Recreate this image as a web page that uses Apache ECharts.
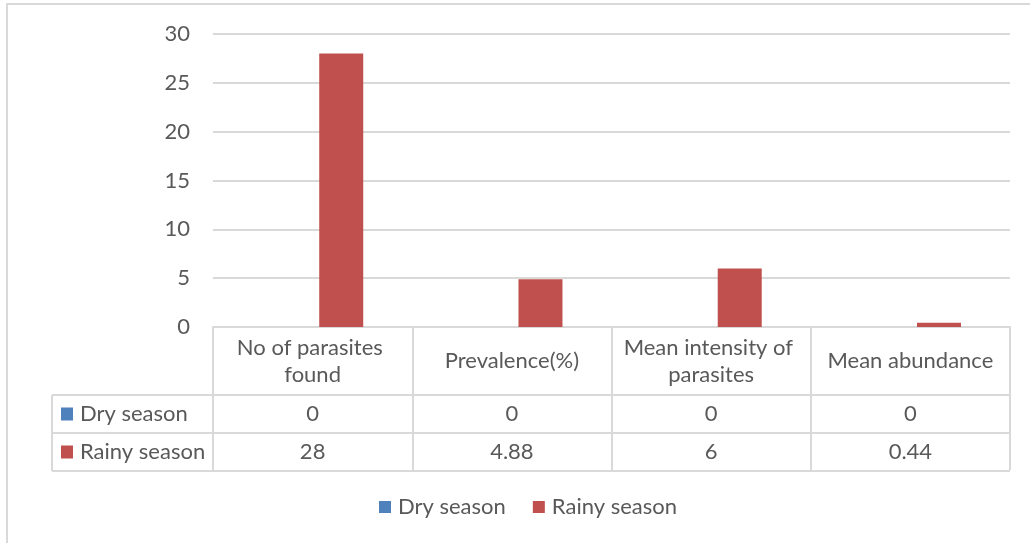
<!DOCTYPE html>
<html>
<head>
<meta charset="utf-8">
<script src="https://cdn.jsdelivr.net/npm/echarts@6/dist/echarts.min.js"></script>
<style>
  html, body { margin: 0; padding: 0; background: #fff; }
  #chart { width: 1030px; height: 543px; }
</style>
</head>
<body>
<div id="chart"></div>
<script>
// Parasite load by season
const categories = ['No of parasites found', 'Prevalence(%)', 'Mean intensity of parasites', 'Mean abundance'];
const seriesNames = ['Dry season', 'Rainy season'];
const drySeason = [0, 0, 0, 0];
const rainySeason = [28, 4.88, 6, 0.44];
const tableText = [['0', '0', '0', '0'], ['28', '4.88', '6', '0.44']];
const yTicks = [0, 5, 10, 15, 20, 25, 30];

const COLORS = ['#4f81bd', '#c0504d'];
const TEXT = '#595959';
const LINE = '#d9d9d9';
const FONT = 'Lato';
const FS = 22;

const chart = echarts.init(document.getElementById('chart'), null, { renderer: 'canvas' });

const option = {
  animation: false,
  backgroundColor: '#fff',
  grid: { left: 213, right: 20, top: 34, bottom: 216, containLabel: false },
  legend: {
    top: 491,
    left: 374,
    itemWidth: 12,
    itemHeight: 12,
    itemGap: 27,
    icon: 'rect',
    data: seriesNames,
    textStyle: { color: TEXT, fontFamily: FONT, fontSize: FS, padding: [0, 0, 0, 2] }
  },
  xAxis: {
    type: 'category',
    data: categories,
    axisLine: { show: true, lineStyle: { color: LINE, width: 2 } },
    axisTick: { show: true, length: 143, lineStyle: { color: LINE, width: 2 } },
    axisLabel: {
      color: TEXT, fontFamily: FONT, fontSize: FS,
      width: 185, overflow: 'break', lineHeight: 27,
      verticalAlign: 'middle', margin: 34, interval: 0
    }
  },
  yAxis: {
    type: 'value',
    min: 0, max: 30, interval: 5,
    axisLine: { show: false },
    axisTick: { show: false },
    splitLine: { lineStyle: { color: LINE, width: 2 } },
    axisLabel: {
      color: TEXT, fontFamily: FONT, fontSize: FS, margin: 23,
      formatter: v => (yTicks.indexOf(v) >= 0 ? String(v) : '')
    }
  },
  series: [
    { name: seriesNames[0], type: 'bar', data: drySeason, barWidth: 44, barGap: '30%', itemStyle: { color: COLORS[0] } },
    { name: seriesNames[1], type: 'bar', data: rainySeason, barWidth: 44, barGap: '30%', itemStyle: { color: COLORS[1] } }
  ]
};

chart.setOption(option);

// Data table under the plot: rows built from the series values, columns from the category axis
function buildTable() {
  const c0 = chart.convertToPixel({ xAxisIndex: 0 }, 0);
  const c1 = chart.convertToPixel({ xAxisIndex: 0 }, 1);
  const band = c1 - c0;
  const right = chart.convertToPixel({ xAxisIndex: 0 }, categories.length - 1) + band / 2;
  const tableLeft = 52;
  const rowTops = [395, 433, 471];
  const els = [];

  // outer chart frame
  els.push({ type: 'rect', shape: { x: 7, y: 4, width: 1040, height: 560 }, style: { fill: 'none', stroke: LINE, lineWidth: 2 }, silent: true, z: 0 });

  rowTops.forEach(y => {
    els.push({ type: 'line', shape: { x1: tableLeft, y1: y, x2: right, y2: y }, style: { stroke: LINE, lineWidth: 2 }, z: 5 });
  });
  els.push({ type: 'line', shape: { x1: tableLeft, y1: rowTops[0], x2: tableLeft, y2: rowTops[2] }, style: { stroke: LINE, lineWidth: 2 }, z: 5 });

  seriesNames.forEach((name, r) => {
    const cy = (rowTops[r] + rowTops[r + 1]) / 2;
    els.push({ type: 'rect', shape: { x: 61, y: cy - 6.5, width: 12, height: 13 }, style: { fill: COLORS[r] }, z: 6 });
    els.push({ type: 'text', x: 80, y: cy, style: { text: name, fill: TEXT, font: FS + 'px ' + FONT, verticalAlign: 'middle', align: 'left' }, z: 6 });
    tableText[r].forEach((t, i) => {
      const cx = chart.convertToPixel({ xAxisIndex: 0 }, i);
      els.push({ type: 'text', x: cx, y: cy, style: { text: t, fill: TEXT, font: FS + 'px ' + FONT, verticalAlign: 'middle', align: 'center' }, z: 6 });
    });
  });

  chart.setOption({ graphic: { elements: els } });
}

buildTable();
</script>
</body>
</html>
